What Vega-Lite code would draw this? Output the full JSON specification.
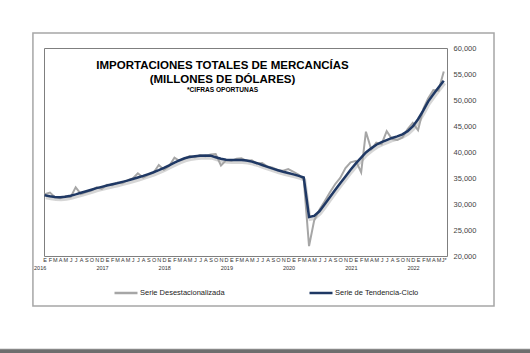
{
  "$schema": "https://vega.github.io/schema/vega-lite/v6.json",
  "width": 403,
  "height": 208,
  "autosize": {"type": "none"},
  "padding": {"left": 44, "top": 48, "right": 83, "bottom": 97},
  "background": "white",
  "config": {"view": {"stroke": "#7f7f7f", "strokeWidth": 1}, "font": "Liberation Sans"},
  "resolve": {"axis": {"x": "independent", "y": "independent"}},
  "title": {
    "text": ["IMPORTACIONES TOTALES DE MERCANCÍAS", "(MILLONES DE DÓLARES)"],
    "subtitle": "*CIFRAS OPORTUNAS",
    "anchor": "middle",
    "frame": "group",
    "offset": -61,
    "dx": -23,
    "font": "Liberation Sans",
    "fontSize": 11.5,
    "fontWeight": "bold",
    "lineHeight": 14,
    "color": "#000000",
    "subtitleFont": "Liberation Sans",
    "subtitleFontSize": 6.6,
    "subtitleFontWeight": "bold",
    "subtitleColor": "#000000",
    "subtitlePadding": 1
  },
  "datasets": {
    "serie": [
      {"d":"2016-01-01","g":31900,"t":31700},
      {"d":"2016-02-01","g":32200,"t":31500},
      {"d":"2016-03-01","g":31300,"t":31350},
      {"d":"2016-04-01","g":31100,"t":31300},
      {"d":"2016-05-01","g":31500,"t":31400},
      {"d":"2016-06-01","g":31300,"t":31600},
      {"d":"2016-07-01","g":33200,"t":31850},
      {"d":"2016-08-01","g":31900,"t":32150},
      {"d":"2016-09-01","g":32300,"t":32450},
      {"d":"2016-10-01","g":32600,"t":32750},
      {"d":"2016-11-01","g":33200,"t":33050},
      {"d":"2016-12-01","g":32900,"t":33300},
      {"d":"2017-01-01","g":33700,"t":33550},
      {"d":"2017-02-01","g":33600,"t":33800},
      {"d":"2017-03-01","g":34100,"t":34000},
      {"d":"2017-04-01","g":34000,"t":34250},
      {"d":"2017-05-01","g":34600,"t":34500},
      {"d":"2017-06-01","g":34900,"t":34800},
      {"d":"2017-07-01","g":35900,"t":35100},
      {"d":"2017-08-01","g":35100,"t":35400},
      {"d":"2017-09-01","g":35600,"t":35750},
      {"d":"2017-10-01","g":36000,"t":36100},
      {"d":"2017-11-01","g":37500,"t":36500},
      {"d":"2017-12-01","g":36600,"t":36950},
      {"d":"2018-01-01","g":37300,"t":37450},
      {"d":"2018-02-01","g":38900,"t":37950},
      {"d":"2018-03-01","g":38300,"t":38400},
      {"d":"2018-04-01","g":38700,"t":38800},
      {"d":"2018-05-01","g":39200,"t":39050},
      {"d":"2018-06-01","g":39000,"t":39200},
      {"d":"2018-07-01","g":39400,"t":39300},
      {"d":"2018-08-01","g":39200,"t":39350},
      {"d":"2018-09-01","g":39500,"t":39300},
      {"d":"2018-10-01","g":39600,"t":39000},
      {"d":"2018-11-01","g":37400,"t":38700},
      {"d":"2018-12-01","g":38400,"t":38500},
      {"d":"2019-01-01","g":38300,"t":38450},
      {"d":"2019-02-01","g":38700,"t":38450},
      {"d":"2019-03-01","g":38800,"t":38450},
      {"d":"2019-04-01","g":38300,"t":38350},
      {"d":"2019-05-01","g":38400,"t":38150},
      {"d":"2019-06-01","g":37800,"t":37850},
      {"d":"2019-07-01","g":37900,"t":37500},
      {"d":"2019-08-01","g":37200,"t":37150},
      {"d":"2019-09-01","g":37000,"t":36800},
      {"d":"2019-10-01","g":36500,"t":36500},
      {"d":"2019-11-01","g":36400,"t":36200},
      {"d":"2019-12-01","g":36700,"t":35950},
      {"d":"2020-01-01","g":36200,"t":35700},
      {"d":"2020-02-01","g":35600,"t":35400},
      {"d":"2020-03-01","g":34700,"t":35100},
      {"d":"2020-04-01","g":21900,"t":27500},
      {"d":"2020-05-01","g":26800,"t":27700},
      {"d":"2020-06-01","g":28900,"t":28600},
      {"d":"2020-07-01","g":30500,"t":29900},
      {"d":"2020-08-01","g":32200,"t":31300},
      {"d":"2020-09-01","g":33800,"t":32700},
      {"d":"2020-10-01","g":35000,"t":34000},
      {"d":"2020-11-01","g":36900,"t":35300},
      {"d":"2020-12-01","g":38000,"t":36600},
      {"d":"2021-01-01","g":38300,"t":37800},
      {"d":"2021-02-01","g":36100,"t":38900},
      {"d":"2021-03-01","g":43900,"t":39900},
      {"d":"2021-04-01","g":40500,"t":40700},
      {"d":"2021-05-01","g":41800,"t":41400},
      {"d":"2021-06-01","g":41500,"t":41900},
      {"d":"2021-07-01","g":44000,"t":42300},
      {"d":"2021-08-01","g":42500,"t":42700},
      {"d":"2021-09-01","g":42300,"t":43000},
      {"d":"2021-10-01","g":42800,"t":43400},
      {"d":"2021-11-01","g":44400,"t":44000},
      {"d":"2021-12-01","g":45600,"t":44900},
      {"d":"2022-01-01","g":44200,"t":46300},
      {"d":"2022-02-01","g":48300,"t":48000},
      {"d":"2022-03-01","g":50300,"t":49700},
      {"d":"2022-04-01","g":51900,"t":51100},
      {"d":"2022-05-01","g":51800,"t":52400},
      {"d":"2022-06-01","g":55500,"t":53700}
    ]
  },
  "layer": [
    {
      "data": {"values": [{}]},
      "mark": {"type": "rect", "fill": "transparent", "stroke": "#a6a6a6", "strokeWidth": 1.5},
      "encoding": {
        "x": {"datum": {"year": 2015, "month": 10, "date": 24, "utc": true}, "type": "temporal",
              "scale": {"type": "utc", "nice": false, "domain": [{"year": 2015, "month": 12, "date": 28, "utc": true}, {"year": 2022, "month": 6, "date": 20, "utc": true}]}, "axis": null},
        "x2": {"datum": {"year": 2023, "month": 3, "date": 23, "utc": true}},
        "y": {"datum": 62885, "type": "quantitative", "scale": {"domain": [20000, 60000], "nice": false, "zero": false}, "axis": null},
        "y2": {"datum": 10385}
      }
    },
    {
      "data": {"values": [{}]},
      "mark": {"type": "rect", "fill": "#6e6e6e", "stroke": "#a8a8a8", "strokeWidth": 0.8},
      "encoding": {
        "x": {"datum": {"year": 2015, "month": 4, "date": 1, "utc": true}, "type": "temporal", "axis": null},
        "x2": {"datum": {"year": 2023, "month": 11, "date": 1, "utc": true}},
        "y": {"datum": 2100, "type": "quantitative", "axis": null},
        "y2": {"datum": 800}
      }
    },
    {
      "data": {"name": "serie"},
      "mark": {"type": "line", "stroke": "#c4c4c4", "strokeWidth": 3, "yOffset": 2.5, "xOffset": 1, "opacity": 0.7},
      "encoding": {
        "x": {"field": "d", "type": "temporal", "axis": null},
        "y": {"field": "t", "type": "quantitative", "axis": null}
      }
    },
    {
      "data": {"name": "serie"},
      "mark": {"type": "line", "strokeWidth": 2},
      "encoding": {
        "x": {"field": "d", "type": "temporal",
              "axis": {"orient": "bottom", "tickCount": {"interval": "month", "step": 1},
                       "labelExpr": "['E','F','M','A','M','J','J','A','S','O','N','D'][utcmonth(datum.value)] + ((utcyear(datum.value) == 2022 && utcmonth(datum.value) == 5) ? '*' : '')",
                       "labelOverlap": false, "labelFontSize": 5.5, "labelPadding": 1, "ticks": false, "domain": false, "grid": false, "title": null,
                       "labelColor": "#333333", "labelFlush": false, "labelBound": false, "labelFont": "Liberation Sans"}},
        "y": {"field": "g", "type": "quantitative",
              "axis": {"orient": "right", "values": [20000, 25000, 30000, 35000, 40000, 45000, 50000, 55000, 60000],
                       "labelExpr": "format(datum.value, ',.0f')",
                       "labelFontSize": 7.5, "labelColor": "#444444", "ticks": false, "domain": false, "grid": false, "title": null,
                       "labelPadding": 6, "labelFlush": false, "labelFont": "Liberation Sans"}},
        "color": {"datum": "Serie Desestacionalizada",
                  "scale": {"domain": ["Serie Desestacionalizada", "Serie de Tendencia-Ciclo"], "range": ["#a6a6a6", "#1f3864"]},
                  "legend": {"orient": "none", "legendX": 69, "legendY": 232, "direction": "horizontal", "title": null,
                             "symbolType": "stroke", "symbolSize": 529, "symbolStrokeWidth": 2.5, "labelFontSize": 7.5,
                             "labelColor": "#222222", "columnPadding": 79, "labelOffset": 1, "labelFont": "Liberation Sans"}}
      }
    },
    {
      "data": {"name": "serie"},
      "mark": {"type": "line", "strokeWidth": 2.5},
      "encoding": {
        "x": {"field": "d", "type": "temporal",
              "axis": {"orient": "bottom", "tickCount": {"interval": "month", "step": 1},
                       "labelExpr": "utcmonth(datum.value) == 0 ? '' + utcyear(datum.value) : ''",
                       "labelOverlap": false, "labelFontSize": 5.5, "labelPadding": 9, "labelOffset": -5, "ticks": false, "domain": false, "grid": false, "title": null,
                       "labelColor": "#333333", "labelFlush": false, "labelBound": false, "labelFont": "Liberation Sans"}},
        "y": {"field": "t", "type": "quantitative", "axis": null},
        "color": {"datum": "Serie de Tendencia-Ciclo"}
      }
    }
  ]
}
